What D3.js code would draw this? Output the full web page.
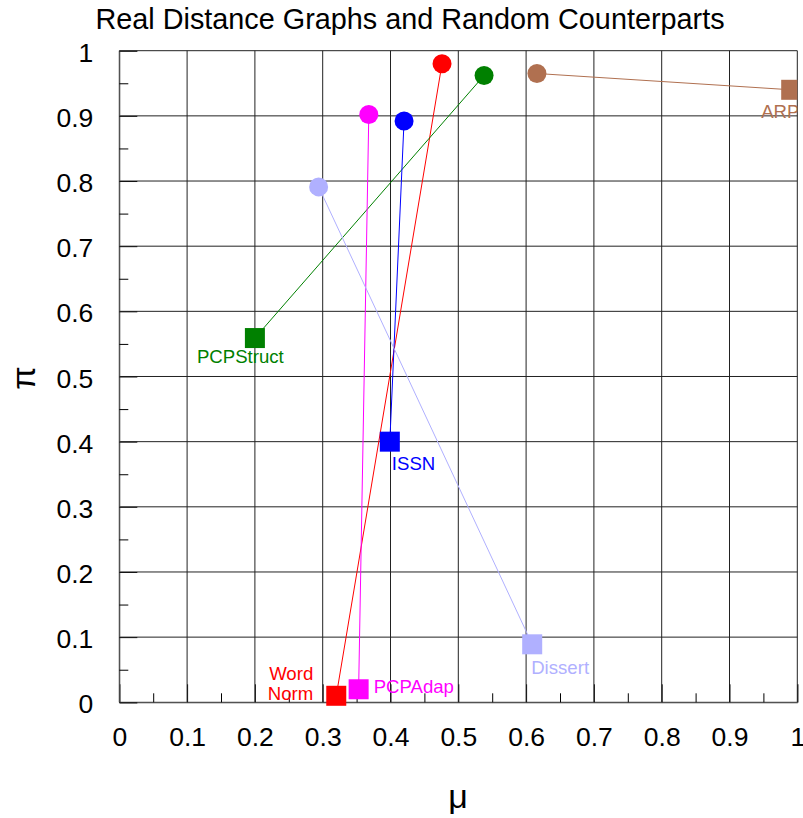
<!DOCTYPE html>
<html>
<head>
    <meta charset="utf-8" />
    <title></title>
    <style>
        body { margin: 0; background: #fff; }
        text { font-family: "Liberation Sans", Arial, sans-serif; }
    </style>
</head>
<body>
    <div id="chart"></div>
    <script src="https://cdn.jsdelivr.net/npm/d3@7/dist/d3.min.js"></script>
    <script>
        // data
        var names = ["Word Norm", "PCPStruct", "ARP", "PCPAdap", "ISSN", "Dissert"];
        var realMu = [0.320, 0.200, 0.991, 0.353, 0.399, 0.609];   // squares
        var realPi = [0.010, 0.559, 0.940, 0.020, 0.400, 0.089];
        var randMu = [0.476, 0.538, 0.616, 0.368, 0.420, 0.294];   // circles
        var randPi = [0.980, 0.962, 0.965, 0.902, 0.892, 0.791];
        var tickValues = [0, 0.1, 0.2, 0.3, 0.4, 0.5, 0.6, 0.7, 0.8, 0.9, 1];
        var tickLabels = ["0", "0.1", "0.2", "0.3", "0.4", "0.5", "0.6", "0.7", "0.8", "0.9", "1"];

        // styling / label placement
        var colors = ["#ff0000", "#008000", "#b07050", "#ff00ff", "#0000ff", "#b0b0ff"];
        var labelPos = {
            "Word Norm": { dx: -23, dy: -16, anchor: "end" },
            "PCPStruct": { dx: -58, dy: 25, anchor: "start" },
            "ARP": { dx: -30, dy: 28, anchor: "start" },
            "PCPAdap": { dx: 15, dy: 4, anchor: "start" },
            "ISSN": { dx: 2, dy: 28, anchor: "start" },
            "Dissert": { dx: -1, dy: 30, anchor: "start" }
        };

        var W = 803, H = 818;
        var margins = { left: 119.3, top: 50.7, right: 5.7, bottom: 115.7 };
        var width = W - margins.left - margins.right;
        var height = H - margins.top - margins.bottom;

        var svg = d3.select("#chart").append("svg")
            .attr("width", W).attr("height", H);

        svg.append("text")
            .attr("x", 410).attr("y", 29)
            .attr("text-anchor", "middle")
            .style("font-size", "28.8px")
            .text("Real Distance Graphs and Random Counterparts");

        var g = svg.append("g")
            .attr("transform", "translate(" + margins.left + "," + margins.top + ")");

        var x = d3.scaleLinear().domain([0, 1]).range([0, width]);
        var y = d3.scaleLinear().domain([0, 1]).range([height, 0]);

        // grid
        g.append("g").selectAll("line").data(tickValues).join("line")
            .attr("x1", d => x(d)).attr("x2", d => x(d))
            .attr("y1", 0).attr("y2", height)
            .attr("stroke", "#222").attr("stroke-width", 1);
        g.append("g").selectAll("line").data(tickValues).join("line")
            .attr("y1", d => y(d)).attr("y2", d => y(d))
            .attr("x1", 0).attr("x2", width)
            .attr("stroke", "#222").attr("stroke-width", 1);

        // axes with inward ticks
        var minor = d3.range(0.05, 1, 0.1);
        var xAxis = d3.axisBottom(x).tickValues(tickValues)
            .tickFormat((d, i) => tickLabels[i]).tickSize(-18).tickPadding(25);
        var yAxis = d3.axisLeft(y).tickValues(tickValues)
            .tickFormat((d, i) => tickLabels[i]).tickSize(-18).tickPadding(26);

        var gx = g.append("g").attr("transform", "translate(0," + height + ")").call(xAxis);
        var gy = g.append("g").call(yAxis);
        [gx, gy].forEach(function (a) {
            a.select(".domain").attr("stroke", "#555");
            a.selectAll(".tick line").attr("stroke", "#111");
            a.selectAll("text").style("font-size", "26.5px").attr("fill", "#000")
                .style("font-family", "'Liberation Sans', Arial, sans-serif");
        });
        gx.selectAll("text").attr("dy", "0.71em");
        gy.selectAll("text").attr("dy", "0.40em");

        g.append("g").attr("transform", "translate(0," + height + ")")
            .call(d3.axisBottom(x).tickValues(minor).tickSize(-9).tickFormat(""))
            .call(s => s.select(".domain").remove());
        g.append("g")
            .call(d3.axisLeft(y).tickValues(minor).tickSize(-9).tickFormat(""))
            .call(s => s.select(".domain").remove());

        // axis titles
        svg.append("text")
            .attr("x", 458).attr("y", 808)
            .attr("text-anchor", "middle")
            .style("font-size", "34px")
            .text("μ");
        svg.append("text")
            .attr("transform", "translate(35,378) rotate(-90)")
            .attr("text-anchor", "middle")
            .style("font-size", "34px")
            .text("π");

        // clip (right edge only, marks may overhang the bottom axis)
        svg.append("clipPath").attr("id", "clip")
            .append("rect").attr("x", -30).attr("y", -30)
            .attr("width", width + 30).attr("height", height + 60);

        var pts = names.map(function (n, i) {
            return { name: n, mu: realMu[i], pi: realPi[i], rmu: randMu[i], rpi: randPi[i], color: colors[i] };
        });

        var marks = g.append("g").attr("clip-path", "url(#clip)");

        marks.selectAll(".link").data(pts).join("line")
            .attr("class", "link")
            .attr("x1", d => x(d.mu)).attr("y1", d => y(d.pi))
            .attr("x2", d => x(d.rmu)).attr("y2", d => y(d.rpi))
            .attr("stroke", d => d.color).attr("stroke-width", 1);

        marks.selectAll(".rand").data(pts).join("circle")
            .attr("class", "rand")
            .attr("cx", d => x(d.rmu)).attr("cy", d => y(d.rpi))
            .attr("r", 9.5).attr("fill", d => d.color);

        marks.selectAll(".real").data(pts).join("rect")
            .attr("class", "real")
            .attr("x", d => x(d.mu) - 10).attr("y", d => y(d.pi) - 10)
            .attr("width", 20).attr("height", 20)
            .attr("fill", d => d.color);

        marks.selectAll(".lbl").data(pts).join("text")
            .attr("class", "lbl")
            .attr("x", d => x(d.mu) + labelPos[d.name].dx)
            .attr("y", d => y(d.pi) + labelPos[d.name].dy)
            .attr("text-anchor", d => labelPos[d.name].anchor)
            .attr("fill", d => d.color)
            .style("font-size", "18.6px")
            .each(function (d) {
                var words = d.name === "Word Norm" ? ["Word", "Norm"] : [d.name];
                var t = d3.select(this);
                words.forEach(function (w, k) {
                    t.append("tspan")
                        .attr("x", x(d.mu) + labelPos[d.name].dx)
                        .attr("dy", k === 0 ? 0 : 20)
                        .text(w);
                });
            });
    </script>
</body>
</html>
